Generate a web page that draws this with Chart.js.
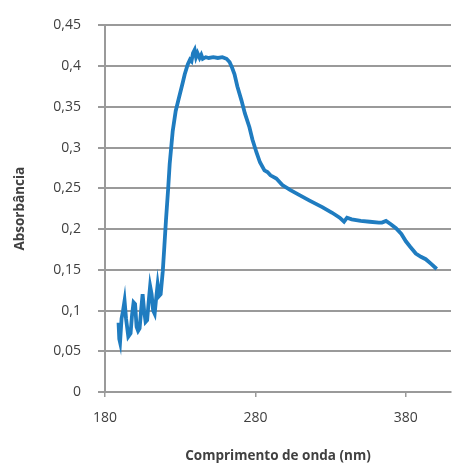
<!DOCTYPE html>
<html>
<head>
<meta charset="utf-8">
<script src="https://cdn.jsdelivr.net/npm/chart.js@4"></script>
<style>
  html, body { margin: 0; padding: 0; background: #fff; }
  #wrap { width: 454px; height: 469px; }
</style>
</head>
<body>
<div id="wrap"><canvas id="spectrum"></canvas></div>
<script>
// comprimento de onda (nm) e absorbância
const wavelength = [
    189, 189.5, 190, 191, 192, 193, 194, 195.5, 197, 198, 199, 200, 201, 202, 203, 204, 205, 206, 207, 208,
    209, 210, 211, 212, 213, 214, 215, 216, 217, 218.4, 219.5, 220.5, 222, 223, 225, 227, 229, 231.7, 233, 235,
    236.5, 237.5, 238.5, 239.6, 240.5, 241.5, 242.9, 244, 245, 247, 249, 252, 255, 258, 260.8, 262.8, 264.5, 266.1, 268, 270.7,
    273, 276, 278, 280.7, 283, 286, 288, 290, 293.9, 297.9, 303, 309, 316, 324.4, 331, 336, 338.9, 340.9, 344, 350,
    356, 362, 364.1, 366.8, 370, 373.4, 377, 380, 383, 386.6, 390, 393.2, 397, 400.5
];
const absorbance = [
    0.085, 0.065, 0.061, 0.09, 0.1, 0.112, 0.09, 0.068, 0.072, 0.095, 0.11, 0.108, 0.08, 0.075, 0.078, 0.1, 0.12, 0.1, 0.086, 0.088,
    0.11, 0.13, 0.12, 0.1, 0.096, 0.115, 0.132, 0.118, 0.12, 0.148, 0.18, 0.21, 0.25, 0.28, 0.32, 0.345, 0.36, 0.38, 0.39, 0.402,
    0.408, 0.406, 0.416, 0.42, 0.411, 0.416, 0.41, 0.414, 0.409, 0.411, 0.41, 0.411, 0.41, 0.411, 0.409, 0.405, 0.398, 0.39, 0.375, 0.358,
    0.342, 0.325, 0.31, 0.294, 0.282, 0.272, 0.27, 0.266, 0.262, 0.254, 0.248, 0.242, 0.235, 0.227, 0.22, 0.214, 0.209, 0.214, 0.212, 0.21,
    0.209, 0.208, 0.208, 0.21, 0.206, 0.201, 0.194, 0.185, 0.178, 0.17, 0.166, 0.163, 0.157, 0.151
];
const xTicks = [180, 280, 380];

const points = wavelength.map((w, i) => ({ x: w, y: absorbance[i] }));
const fontFamily = "'Open Sans', 'Noto Sans', sans-serif";

new Chart(document.getElementById('spectrum'), {
    type: 'line',
    data: {
        datasets: [{
            data: points,
            borderColor: '#1f7cc0',
            borderWidth: 3.8,
            pointRadius: 0,
            tension: 0,
            fill: false
        }]
    },
    options: {
        responsive: true,
        maintainAspectRatio: false,
        animation: false,
        layout: { padding: { top: 14, right: 3, left: 4, bottom: 4 } },
        plugins: { legend: { display: false }, tooltip: { enabled: false } },
        scales: {
            x: {
                type: 'linear',
                min: 180,
                max: 410,
                afterBuildTicks: (scale) => { scale.ticks = xTicks.map(v => ({ value: v })); },
                afterFit: (scale) => { scale.height = 73; },
                grid: { display: true, drawOnChartArea: false, color: '#9a9a9a', lineWidth: 1.5, tickLength: 5 },
                border: { color: '#9a9a9a', width: 2 },
                ticks: { color: '#404040', font: { family: fontFamily, size: 14 }, padding: 13, maxRotation: 0 },
                title: {
                    display: true,
                    text: 'Comprimento de onda (nm)',
                    color: '#404040',
                    font: { family: fontFamily, size: 13.5, weight: 'bold' },
                    padding: { top: 0, bottom: 1 }
                }
            },
            y: {
                type: 'linear',
                min: 0,
                max: 0.45,
                afterFit: (scale) => { scale.width = 101; },
                ticks: {
                    stepSize: 0.05,
                    color: '#404040',
                    font: { family: fontFamily, size: 14 },
                    padding: 17,
                    callback: (v) => String(Number(v.toFixed(2))).replace('.', ',')
                },
                grid: { display: true, drawOnChartArea: true, color: '#9a9a9a', lineWidth: 2, tickLength: 7 },
                border: { display: true, color: '#9a9a9a', width: 2 },
                title: {
                    display: true,
                    text: 'Absorbância',
                    color: '#404040',
                    font: { family: fontFamily, size: 13.5, weight: 'bold' },
                    padding: { top: 8, bottom: 0 }
                }
            }
        }
    }
});
</script>
</body>
</html>
